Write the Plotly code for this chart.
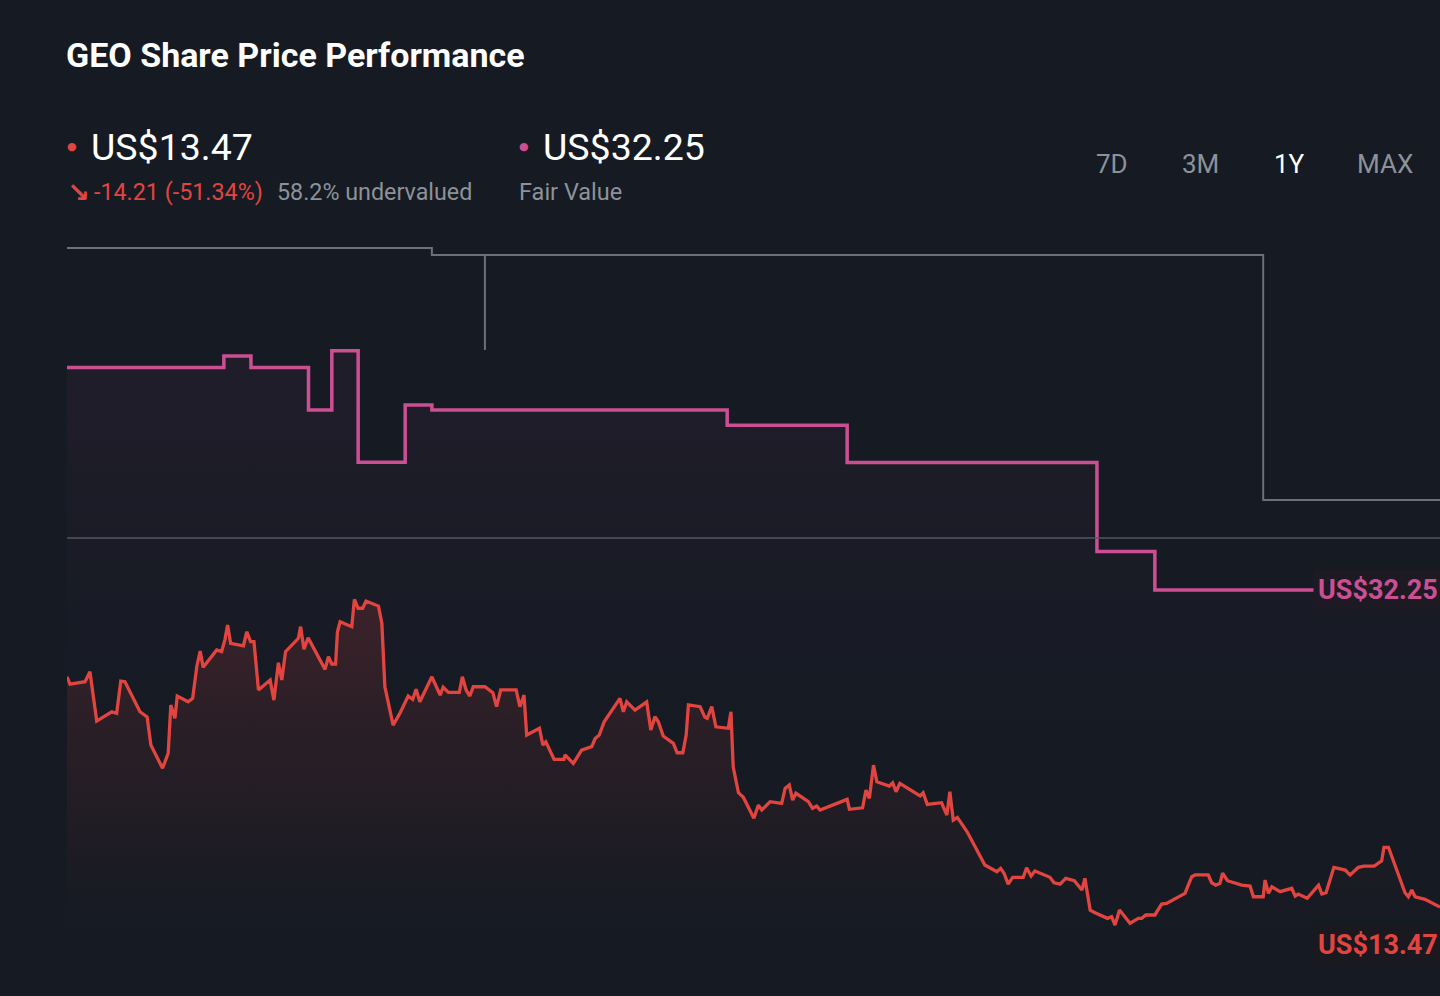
import pandas as pd
import plotly.graph_objects as go

# ---------------- data ----------------
start_date = "2025-02-07"
period_days = 365

# share price (US$) sampled by day offset from start_date
price_day = [0, 0.8, 4.8, 6.1, 7.9, 11.9, 13.2, 14.3, 15.4, 19.4,
             21.3, 22.3, 25.4, 26.9, 27.6, 28.7, 29.3, 32.2, 33.4, 34.5,
             35.4, 36.2, 39.8, 41.1, 42.0, 42.7, 43.5, 46.9, 47.8, 48.8,
             49.7, 50.9, 54.0, 55.0, 56.2, 57.1, 58.1, 61.5, 62.1, 63.0,
             64.1, 68.6, 69.5, 70.4, 71.4, 71.9, 72.6, 75.7, 76.4, 77.4,
             78.6, 79.5, 82.8, 83.7, 84.5, 86.7, 88.5, 90.7, 91.9, 92.8,
             93.8, 97.0, 99.2, 100.0, 101.4, 104.3, 105.1, 106.1, 107.1, 108.0,
             111.1, 113.2, 114.2, 115.3, 119.4, 120.4, 121.5, 122.2, 125.6, 126.5,
             127.3, 129.5, 132.1, 132.4, 134.6, 136.8, 139.5, 140.4, 141.5, 142.8,
             147.0, 147.9, 148.8, 151.0, 154.1, 155.2, 156.3, 157.2, 158.5, 161.2,
             162.2, 163.7, 164.6, 165.2, 168.3, 169.6, 170.2, 171.4, 172.5, 175.8,
             176.5, 177.1, 178.5, 179.8, 182.6, 183.8, 184.7, 186.9, 190.0, 190.9,
             192.0, 192.9, 193.8, 197.1, 198.2, 199.3, 200.2, 207.4, 208.0, 211.5,
             212.4, 213.3, 214.4, 215.3, 218.6, 219.5, 220.4, 221.4, 226.8, 227.6,
             228.7, 232.5, 233.9, 234.7, 235.6, 236.7, 239.3, 240.9, 244.0, 247.2,
             248.2, 249.1, 250.2, 251.4, 254.2, 255.1, 256.3, 257.3, 261.3, 262.4,
             264.0, 265.5, 267.8, 269.8, 270.6, 272.0, 273.3, 276.6, 277.7, 278.6,
             279.8, 282.6, 284.8, 285.7, 286.8, 289.2, 291.0, 292.3, 297.2, 299.0,
             299.9, 303.4, 304.3, 305.4, 306.5, 307.2, 308.5, 312.3, 314.5, 315.4,
             318.0, 318.5, 319.4, 320.3, 322.5, 325.6, 326.5, 327.3, 329.7, 332.7,
             333.6, 334.7, 336.8, 339.8, 341.1, 343.3, 344.8, 347.5, 349.5, 350.1,
             351.3, 355.7, 356.6, 357.5, 358.4, 361.0, 363.0, 365.0]
price_val = [27.11, 26.68, 26.82, 27.41, 24.49, 25.04, 24.95, 26.86, 26.82, 25.04,
             24.74, 23.07, 21.69, 22.58, 25.44, 24.65, 25.97, 25.63, 25.83, 27.71,
             28.64, 27.67, 28.70, 28.60, 29.33, 30.18, 29.09, 28.95, 29.78, 29.19,
             29.19, 26.33, 26.92, 25.73, 27.94, 26.92, 28.60, 29.39, 30.08, 28.74,
             29.42, 27.55, 28.30, 27.87, 27.87, 29.78, 30.37, 30.08, 31.70, 31.17,
             31.17, 31.60, 31.30, 30.28, 26.52, 24.25, 24.95, 25.97, 25.77, 26.37,
             25.63, 27.11, 26.03, 26.49, 26.19, 26.19, 27.11, 26.33, 25.97, 26.52,
             26.52, 26.17, 25.34, 26.33, 26.33, 25.34, 26.03, 23.66, 24.06, 23.07,
             23.26, 22.22, 22.22, 22.48, 21.98, 22.77, 22.97, 23.46, 23.66, 24.45,
             25.83, 25.04, 25.63, 25.14, 25.63, 23.96, 24.74, 24.45, 23.60, 23.17,
             22.61, 22.61, 23.66, 25.44, 25.34, 24.71, 24.65, 25.34, 24.15, 24.06,
             25.04, 21.78, 20.24, 19.97, 18.73, 19.51, 19.22, 19.71, 19.61, 20.50,
             20.70, 19.81, 20.21, 19.71, 19.32, 19.45, 19.22, 19.85, 19.26, 19.35,
             20.40, 19.91, 21.88, 20.89, 20.64, 20.83, 20.30, 20.80, 20.05, 20.24,
             19.55, 19.65, 18.92, 20.30, 18.62, 18.78, 17.93, 17.24, 15.96, 15.56,
             15.76, 15.47, 14.83, 15.23, 15.23, 15.80, 15.31, 15.60, 15.23, 14.91,
             14.83, 15.17, 15.03, 14.48, 15.17, 13.29, 13.13, 12.80, 12.90, 12.40,
             13.29, 12.51, 12.80, 12.80, 13.00, 13.00, 13.65, 13.69, 14.28, 15.27,
             15.37, 15.37, 14.91, 14.77, 14.87, 15.47, 15.03, 14.77, 14.71, 14.08,
             14.08, 15.07, 14.28, 14.67, 14.38, 14.58, 14.12, 14.24, 13.99, 14.77,
             14.24, 14.32, 15.82, 15.66, 15.37, 15.82, 15.90, 15.90, 16.21, 17.01,
             17.01, 14.32, 14.08, 14.48, 14.08, 13.93, 13.72, 13.47]

# fair value estimate (step line)
fv_day = [0, 41.7, 48.9, 64.2, 70.4, 77.4, 89.9, 97.0, 175.5, 207.4, 273.8, 289.2, 365.0]
fv_val = [45.43, 46.11, 45.43, 42.91, 46.43, 39.82, 43.21, 42.91, 42.02, 39.81, 34.53, 32.25, 32.25]

# grey step line (upper reference)
ref_day = [0, 97.0, 111.1, 111.1, 318.0, 365.0]
ref_val = [52.51, 52.10, 46.47, 52.10, 37.58, 37.58]

# grey flat level
flat_level = 35.33

y_range = [8.20, 53.58]

last_price_text = "US$13.47"
change_text = "-14.21 (-51.34%)"
undervalued_text = "58.2% undervalued"
fair_value_text = "US$32.25"
periods = ["7D", "3M", "1Y", "MAX"]
active_period = "1Y"

# ---------------- styling ----------------
BG = "#151a23"
RED = "#e2453f"
PINK = "#cc4f94"
GREY_STEP = "#6c7078"
GREY_FLAT = "#52575f"
MUTED = "#8d9299"
FONT = "Roboto"

W, H = 1440, 996
ML, MT = 67, 230
PW, PH = W - ML, H - MT


def px_x(px):
    return (px - ML) / PW


def px_y(py):
    return (H - py) / PH


t0 = pd.Timestamp(start_date)


def to_dates(days):
    return [t0 + pd.Timedelta(days=d) for d in days]


fig = go.Figure()

# fair value line with faint fill
fig.add_trace(go.Scatter(
    x=to_dates(fv_day), y=fv_val, mode="lines", line=dict(color=PINK, width=3.5, shape="hv"),
    fill="tozeroy",
    fillgradient=dict(type="vertical", start=24, stop=max(fv_val),
                      colorscale=[[0, "rgba(204,79,148,0)"], [1, "rgba(204,79,148,0.06)"]]),
    hoverinfo="skip",
))

# grey step line
fig.add_trace(go.Scatter(
    x=to_dates(ref_day), y=ref_val, mode="lines", line=dict(color=GREY_STEP, width=2, shape="hv"),
    hoverinfo="skip",
))

# grey flat level
fig.add_trace(go.Scatter(
    x=to_dates([0, period_days]), y=[flat_level, flat_level], mode="lines",
    line=dict(color=GREY_FLAT, width=1.6), hoverinfo="skip",
))

# price line with gradient fill
fig.add_trace(go.Scatter(
    x=to_dates(price_day), y=price_val, mode="lines", line=dict(color=RED, width=3.3),
    fill="tozeroy",
    fillgradient=dict(type="vertical", start=12, stop=max(price_val),
                      colorscale=[[0, "rgba(226,69,63,0)"], [1, "rgba(226,69,63,0.17)"]]),
    hoverinfo="skip",
))

ann = []
# title
ann.append(dict(x=px_x(64), y=px_y(55), xref="paper", yref="paper", xanchor="left", yanchor="middle",
                text="<b>GEO Share Price Performance</b>", showarrow=False,
                font=dict(family=FONT, size=34, color="#ffffff")))
# price header
ann.append(dict(x=px_x(72), y=px_y(147), xref="paper", yref="paper", xanchor="center", yanchor="middle",
                text="●", showarrow=False, font=dict(family="DejaVu Sans", size=11, color=RED)))
ann.append(dict(x=px_x(89), y=px_y(147), xref="paper", yref="paper", xanchor="left", yanchor="middle",
                text=last_price_text, showarrow=False, font=dict(family=FONT, size=37.5, color="#ffffff")))
ann.append(dict(x=px_x(78), y=px_y(192), xref="paper", yref="paper", xanchor="center", yanchor="middle",
                text="<b>↘</b>", showarrow=False, font=dict(family="DejaVu Sans", size=27, color=RED)))
ann.append(dict(x=px_x(92), y=px_y(192), xref="paper", yref="paper", xanchor="left", yanchor="middle",
                text=change_text, showarrow=False, font=dict(family=FONT, size=23.3, color=RED)))
ann.append(dict(x=px_x(275), y=px_y(192), xref="paper", yref="paper", xanchor="left", yanchor="middle",
                text=undervalued_text, showarrow=False, font=dict(family=FONT, size=23.3, color=MUTED)))
# fair value header
ann.append(dict(x=px_x(524), y=px_y(147), xref="paper", yref="paper", xanchor="center", yanchor="middle",
                text="●", showarrow=False, font=dict(family="DejaVu Sans", size=11, color=PINK)))
ann.append(dict(x=px_x(541), y=px_y(147), xref="paper", yref="paper", xanchor="left", yanchor="middle",
                text=fair_value_text, showarrow=False, font=dict(family=FONT, size=37.5, color="#ffffff")))
ann.append(dict(x=px_x(517), y=px_y(192), xref="paper", yref="paper", xanchor="left", yanchor="middle",
                text="Fair Value", showarrow=False, font=dict(family=FONT, size=23.5, color=MUTED)))
# period selector
for label, cx in zip(periods, [1112, 1200, 1289, 1385]):
    ann.append(dict(x=px_x(cx), y=px_y(164), xref="paper", yref="paper", xanchor="center", yanchor="middle",
                    text=label, showarrow=False,
                    font=dict(family=FONT, size=26, color="#ffffff" if label == active_period else MUTED)))
# end labels
ann.append(dict(x=px_x(1313), y=fv_val[-1], xref="paper", yref="y", xanchor="left", yanchor="middle",
                text="<b>" + fair_value_text + "</b>", showarrow=False, bgcolor="#1e1a24", borderpad=4,
                font=dict(family=FONT, size=27, color=PINK)))
ann.append(dict(x=px_x(1313), y=price_val[-1], xref="paper", yref="y", xanchor="left", yanchor="middle",
                yshift=-38, text="<b>" + last_price_text + "</b>", showarrow=False, bgcolor="#1a191f",
                borderpad=4, font=dict(family=FONT, size=27, color=RED)))

fig.update_layout(
    width=W, height=H,
    margin=dict(l=ML, r=0, t=MT, b=0, pad=0),
    paper_bgcolor=BG, plot_bgcolor=BG,
    showlegend=False, hovermode=False,
    annotations=ann,
    xaxis=dict(visible=False, range=[t0, t0 + pd.Timedelta(days=period_days)], fixedrange=True),
    yaxis=dict(visible=False, range=y_range, fixedrange=True),
    font=dict(family=FONT),
)

fig.write_html(
    "out.html",
    config={"displayModeBar": False},
    post_script="document.body.style.margin='0';document.body.style.background='" + BG + "';"
                "document.body.style.overflow='hidden';",
)
